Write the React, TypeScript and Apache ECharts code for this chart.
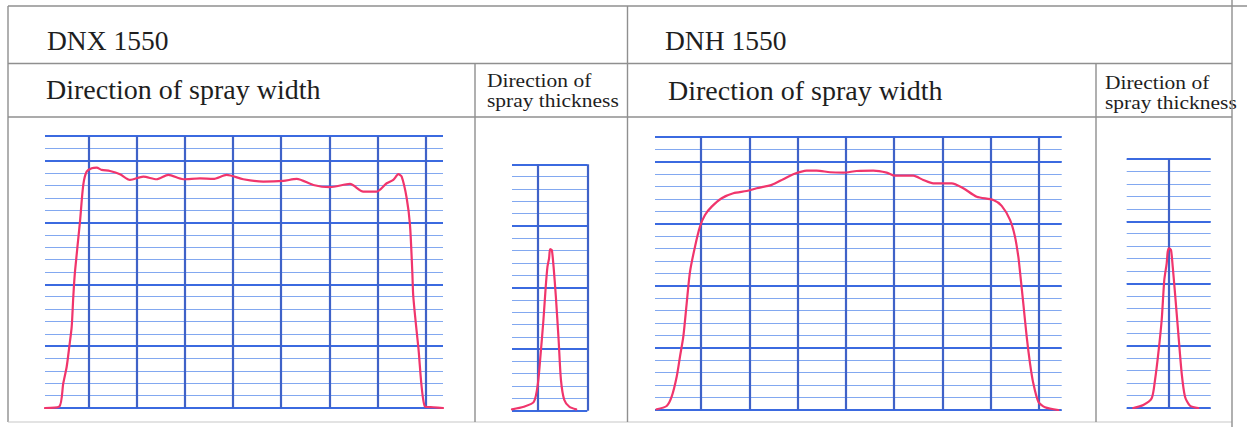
import React, { useEffect, useRef } from "react";
import * as echarts from "echarts";

// ---- Data (grid units: x = vertical grid line index, y = horizontal grid line index) ----
const dnxWidthX = [-0.898, -0.602, -0.519, -0.448, -0.394, -0.344, -0.311, -0.276, -0.172, -0.104, -0.033, 0.071, 0.174, 0.278, 0.45, 0.658, 0.865, 1.141, 1.419, 1.66, 1.971, 2.317, 2.593, 2.871, 3.216, 3.631, 4.046, 4.324, 4.668, 5.015, 5.429, 5.705, 5.983, 6.191, 6.328, 6.432, 6.502, 6.606, 6.674, 6.722, 6.743, 6.846, 6.985, 7.158, 7.359];
const dnxWidthY = [0, 0.11, 2.0, 3.34, 4.96, 6.58, 9.0, 11.03, 15.07, 18.04, 19.12, 19.39, 19.44, 19.26, 19.17, 18.91, 18.45, 18.71, 18.5, 18.85, 18.5, 18.58, 18.53, 18.85, 18.5, 18.31, 18.37, 18.53, 18.04, 17.86, 18.12, 17.5, 17.5, 18.18, 18.45, 18.91, 18.71, 16.97, 14.81, 11.03, 9.0, 4.96, 0.11, 0.06, 0];

const dnxThickX = [-0.507, -0.272, -0.069, 0.012, 0.067, 0.122, 0.168, 0.203, 0.235, 0.256, 0.29, 0.325, 0.371, 0.426, 0.473, 0.54, 0.641, 0.777];
const dnxThickY = [0.11, 0.32, 0.73, 2.22, 4.66, 7.36, 10.06, 11.69, 12.37, 13.12, 13.04, 11.69, 9.25, 5.74, 2.49, 0.87, 0.32, 0.11];

const dnhWidthX = [-0.917, -0.71, -0.607, -0.503, -0.435, -0.366, -0.296, -0.228, -0.124, -0.021, 0.083, 0.222, 0.429, 0.669, 0.946, 1.153, 1.464, 1.704, 1.911, 2.188, 2.395, 2.671, 2.946, 3.224, 3.567, 3.845, 4.017, 4.395, 4.602, 4.81, 5.19, 5.431, 5.708, 6.052, 6.226, 6.398, 6.501, 6.57, 6.605, 6.673, 6.743, 6.812, 6.88, 6.984, 7.122, 7.398];
const dnhWidthY = [0.06, 0.32, 1.07, 2.68, 4.29, 5.9, 8.59, 11.11, 13.15, 14.76, 15.7, 16.37, 17.05, 17.45, 17.63, 17.85, 18.12, 18.58, 18.98, 19.27, 19.27, 19.14, 19.11, 19.24, 19.27, 19.11, 18.86, 18.86, 18.52, 18.25, 18.25, 17.85, 17.17, 16.91, 16.43, 15.3, 13.95, 12.34, 11.11, 8.59, 5.9, 3.76, 2.15, 0.67, 0.22, 0];

const dnhThickX = [-0.714, -0.51, -0.339, -0.271, -0.204, -0.135, -0.082, -0.033, -0.012, 0.014, 0.055, 0.09, 0.137, 0.204, 0.273, 0.341, 0.443, 0.612];
const dnhThickY = [0, 0.24, 0.78, 2.25, 4.39, 7.07, 10.28, 11.62, 12.55, 12.83, 12.69, 11.35, 9.21, 6.0, 2.79, 0.91, 0.18, 0];

// grid line positions
const majorWidthY = [0, 5, 10, 15, 20, 22];
const majorThickY = [0, 5, 10, 15, 20];
const verticalsWidth = [0, 1, 2, 3, 4, 5, 6, 7];
const verticalsDnxThick = [0, 1];
const verticalsDnhThick = [0];

// headings
const titles = ["DNX 1550", "DNH 1550"];
const widthHeading = "Direction of spray width";
const thickHeading = ["Direction of", "spray thickness"];

const FONT = '"Liberation Serif", "Times New Roman", serif';
const THIN = "#82a8f0";
const THICK = "#3b6ae0";
const VERT = "#3f62c8";
const RED = "#f0356c";
const TABLE = "#8f8f8f";

const zip = (xs: number[], ys: number[]) => xs.map((x, i) => [x, ys[i]]);

export default function App() {
  const ref = useRef<HTMLDivElement>(null);
  useEffect(() => {
    if (!ref.current) return;
    const chart = echarts.init(ref.current, null, { renderer: "svg" });

    const grids = [
      { left: 45, top: 136, width: 398, height: 272 },
      { left: 512, top: 164.3, width: 75.3, height: 246.4 },
      { left: 655, top: 136.7, width: 406.7, height: 273.3 },
      { left: 1126.7, top: 159, width: 84, height: 249 },
    ];
    const xRanges = [
      [-0.898, 7.359],
      [-0.507, 1.0],
      [-0.952, 7.468],
      [-0.849, 0.865],
    ];
    const yMax = [22, 20, 22, 20];
    const majors = [majorWidthY, majorThickY, majorWidthY, majorThickY];
    const verts = [verticalsWidth, verticalsDnxThick, verticalsWidth, verticalsDnhThick];
    const curves = [
      zip(dnxWidthX, dnxWidthY),
      zip(dnxThickX, dnxThickY),
      zip(dnhWidthX, dnhWidthY),
      zip(dnhThickX, dnhThickY),
    ];

    const xAxis = grids.map((_, i) => ({
      type: "value",
      gridIndex: i,
      min: xRanges[i][0],
      max: xRanges[i][1],
      show: false,
    }));
    const yAxis = grids.map((_, i) => ({
      type: "value",
      gridIndex: i,
      min: 0,
      max: yMax[i],
      interval: 1,
      axisLine: { show: false },
      axisTick: { show: false },
      axisLabel: { show: false },
      splitLine: { show: true, lineStyle: { color: THIN, width: 1.2 } },
    }));

    const series: any[] = [];
    grids.forEach((_, i) => {
      series.push({
        type: "line",
        xAxisIndex: i,
        yAxisIndex: i,
        data: curves[i],
        showSymbol: false,
        silent: true,
        z: 1,
        lineStyle: { opacity: 0 },
        markLine: {
          silent: true,
          symbol: "none",
          label: { show: false },
          animation: false,
          data: [
            ...majors[i].map((v) => ({ yAxis: v, lineStyle: { color: THICK, width: 2.2, type: "solid" } })),
            ...verts[i].map((v) => ({ xAxis: v, lineStyle: { color: VERT, width: 2.2, type: "solid" } })),
          ],
        },
      });
      series.push({
        type: "line",
        xAxisIndex: i,
        yAxisIndex: i,
        data: curves[i],
        showSymbol: false,
        silent: true,
        smooth: 0.25,
        z: 5,
        lineStyle: { color: RED, width: 2.2, cap: "round", join: "round" },
      });
    });

    const line = (x1: number, y1: number, x2: number, y2: number, color = TABLE, w = 1.4) => ({
      type: "line",
      shape: { x1, y1, x2, y2 },
      style: { stroke: color, lineWidth: w },
      z: 100,
      silent: true,
    });
    const text = (t: string, x: number, y: number, size: number, lh?: number, sx = 1) => ({
      type: "text",
      x,
      y,
      scaleX: sx,
      style: {
        text: t,
        fill: "#1e1e1e",
        font: `${size}px ${FONT}`,
        fontFamily: FONT,
        fontSize: size,
        lineHeight: lh ?? size,
        verticalAlign: "middle",
      },
      z: 99,
      silent: true,
    });

    const graphic = [
      line(8, 6, 1247, 6),
      line(8, 6, 8, 422),
      line(8, 63.5, 1232, 63.5),
      line(8, 117, 1232, 117),
      line(8, 422, 1232, 422, "#c8c8c8", 1.2),
      line(627.5, 6, 627.5, 422),
      line(475, 63.5, 475, 422),
      line(1096, 63.5, 1096, 422),
      line(1232, 0, 1232, 427),
      text(titles[0], 47, 40, 27.5),
      text(titles[1], 665, 40, 27.5),
      text(widthHeading, 46, 89, 28),
      text(widthHeading, 668, 90, 28),
      text(thickHeading[0], 487, 80.5, 19, 19, 1.13),
      text(thickHeading[1], 487, 100, 19, 19, 1.13),
      text(thickHeading[0], 1105, 82.5, 19, 19, 1.13),
      text(thickHeading[1], 1105, 102, 19, 19, 1.13),
    ];

    chart.setOption({
      animation: false,
      backgroundColor: "#ffffff",
      grid: grids.map((g) => ({ ...g, containLabel: false })),
      xAxis,
      yAxis,
      series,
      graphic,
    });
    return () => chart.dispose();
  }, []);

  return (
    <div
      ref={ref}
      style={{ position: "fixed", left: 0, top: 0, width: 1247, height: 427, background: "#fff" }}
    />
  );
}
